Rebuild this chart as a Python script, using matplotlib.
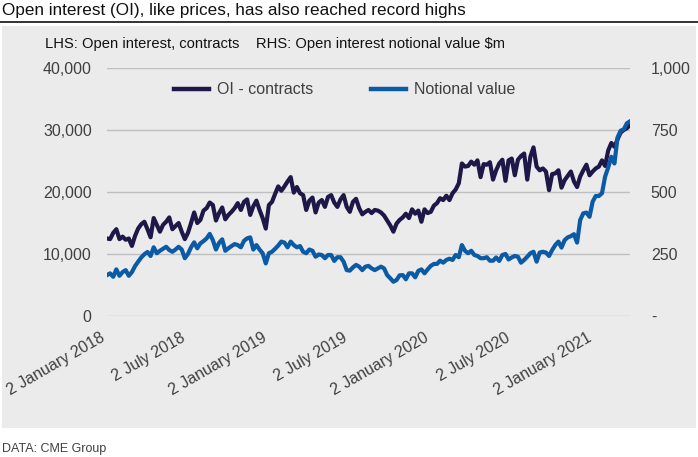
import pandas as pd
import matplotlib.pyplot as plt
from matplotlib.lines import Line2D
from matplotlib.patches import Rectangle

plt.rcParams['font.family'] = ['Liberation Sans', 'DejaVu Sans']

# weekly open interest, contracts (LHS)
oi_contracts = [
    12500, 12400, 13400, 14000, 12400, 12800, 12300, 12500, 11300, 12900,
    14100, 14800, 15200, 14000, 12700, 15800, 14700, 13600, 14700, 15200,
    15900, 14000, 14500, 15000, 13600, 12400, 13400, 15000, 16700, 15000,
    15500, 17000, 17400, 18300, 17900, 15400, 16600, 17500, 15600, 16300,
    16800, 17400, 18200, 17100, 18400, 18800, 16300, 17700, 18600, 17100,
    15800, 14100, 17900, 18400, 19700, 20900, 20200, 20900, 21700, 22400,
    19900, 20800, 19800, 19500, 17100, 18600, 19100, 16700, 18300, 18700,
    17600, 19200, 19500, 18300, 17600, 18800, 19500, 17600, 16800, 18400,
    18900, 17400, 16400, 16800, 17100, 16600, 17100, 17000, 16700, 16200,
    15400, 14600, 13600, 14900, 15500, 15900, 16500, 15800, 17200, 16500,
    17000, 15200, 17200, 16600, 16800, 17800, 18200, 19000, 18700, 19400,
    18700, 19800, 20400, 21400, 24600, 24100, 24200, 24900, 24400, 25100,
    22400, 24500, 24400, 24800, 22000, 23500, 24600, 25200, 21800, 25100,
    25400, 22700, 25200, 25800, 26200, 22000, 25700, 27200, 24100, 23500,
    23800, 23300, 20300, 22900, 23000, 23500, 20700, 21900, 22600, 23300,
    21700, 20800, 22500, 23500, 24400, 22700, 23300, 23800, 24100, 25100,
    24200, 26700, 27900, 27300, 28500, 29600, 30000, 30300, 30800,
]

# weekly open interest notional value, $m (RHS)
notional_value = [
    165, 172, 158, 188, 162, 177, 185, 162, 177, 201,
    219, 236, 249, 258, 242, 277, 253, 263, 271, 279,
    266, 259, 268, 279, 268, 233, 250, 277, 297, 273,
    293, 302, 313, 331, 306, 268, 295, 309, 263, 273,
    282, 290, 286, 277, 303, 313, 317, 268, 286, 268,
    253, 212, 253, 259, 271, 284, 300, 296, 277, 300,
    286, 277, 282, 259, 253, 268, 263, 239, 248, 246,
    233, 246, 246, 222, 237, 237, 219, 185, 183, 196,
    206, 199, 185, 199, 202, 192, 185, 192, 199, 192,
    165, 152, 138, 145, 164, 165, 148, 172, 172, 156,
    182, 188, 172, 188, 202, 210, 210, 223, 215, 226,
    231, 226, 246, 237, 286, 263, 253, 263, 246, 242,
    233, 233, 237, 223, 223, 236, 222, 246, 250, 228,
    236, 242, 239, 215, 226, 239, 253, 259, 219, 256,
    259, 256, 242, 266, 286, 300, 276, 306, 317, 322,
    330, 296, 387, 414, 417, 400, 461, 484, 484, 495,
    562, 599, 642, 615, 720, 747, 753, 777, 785,
]

dates = pd.date_range("2018-01-02", periods=len(oi_contracts), freq="7D")

tick_dates = pd.to_datetime(["2018-01-02", "2018-07-02", "2019-01-02", "2019-07-02",
                             "2020-01-02", "2020-07-02", "2021-01-02"])
tick_labels = ["2 January 2018", "2 July 2018", "2 January 2019", "2 July 2019",
               "2 January 2020", "2 July 2020", "2 January 2021"]

left_ticks = [0, 10000, 20000, 30000, 40000]
left_labels = ["0", "10,000", "20,000", "30,000", "40,000"]
right_ticks = [0, 250, 500, 750, 1000]
right_labels = ["-", "250", "500", "750", "1,000"]

dark = "#1e1848"
blue = "#0b5aa6"
grey_txt = "#404040"

fig = plt.figure(figsize=(6.98, 4.57), dpi=100)

# grey panel and title rule
fig.patches.append(Rectangle((2 / 698, 1 - 428 / 457), 694 / 698, 402 / 457,
                             transform=fig.transFigure, facecolor="#ebebeb",
                             edgecolor="none", zorder=-10))
fig.lines.append(Line2D([0, 1], [1 - 22 / 457, 1 - 22 / 457], transform=fig.transFigure,
                        color="#111111", lw=1.2))
fig.text(2 / 698, 1 - 11 / 457, "Open interest (OI), like prices, has also reached record highs",
         fontsize=12.3, color="#111111", va="center", ha="left")
fig.text(45 / 698, 1 - 44 / 457,
         "LHS: Open interest, contracts    RHS: Open interest notional value $m",
         fontsize=10.6, color="#111111", va="center", ha="left")
fig.text(2 / 698, 1 - 449 / 457, "DATA: CME Group", fontsize=9, color=grey_txt,
         va="center", ha="left")

ax = fig.add_axes([107 / 698, 1 - 316 / 457, 523 / 698, 248 / 457])
ax.set_facecolor("none")
ax.plot(dates, oi_contracts, color=dark, lw=3.0, label="OI - contracts", zorder=3)
ax.set_ylim(0, 40000)
ax.set_xlim(dates[0], dates[-1])
ax.set_yticks(left_ticks)
ax.set_yticklabels(left_labels)
ax.set_xticks(tick_dates)
ax.set_xticklabels(tick_labels, rotation=30, ha="right", va="top")
ax.grid(axis="y", color="#bfbfbf", lw=1)
ax.set_axisbelow(True)
ax.tick_params(axis="both", length=0, labelsize=11.5, colors=grey_txt)
ax.tick_params(axis="y", pad=11)
ax.tick_params(axis="x", pad=10)
for s in ax.spines.values():
    s.set_visible(False)

ax2 = ax.twinx()
ax2.plot(dates, notional_value, color=blue, lw=3.0, label="Notional value", zorder=3)
ax2.set_ylim(0, 1000)
ax2.set_yticks(right_ticks)
ax2.set_yticklabels(right_labels)
ax2.tick_params(axis="y", length=0, labelsize=11.5, colors=grey_txt, pad=15)
for s in ax2.spines.values():
    s.set_visible(False)

h1, l1 = ax.get_legend_handles_labels()
h2, l2 = ax2.get_legend_handles_labels()
leg = ax2.legend(h1 + h2, l1 + l2, loc="center", bbox_to_anchor=(345 / 698, 1 - 90 / 457),
                 bbox_transform=fig.transFigure, ncol=2, frameon=False, fontsize=11.5,
                 handlelength=2.2, handletextpad=0.5, columnspacing=3.6)
for t in leg.get_texts():
    t.set_color(grey_txt)
for h in leg.get_lines():
    h.set_linewidth(3.2)

fig.savefig("out.png", dpi=100)
